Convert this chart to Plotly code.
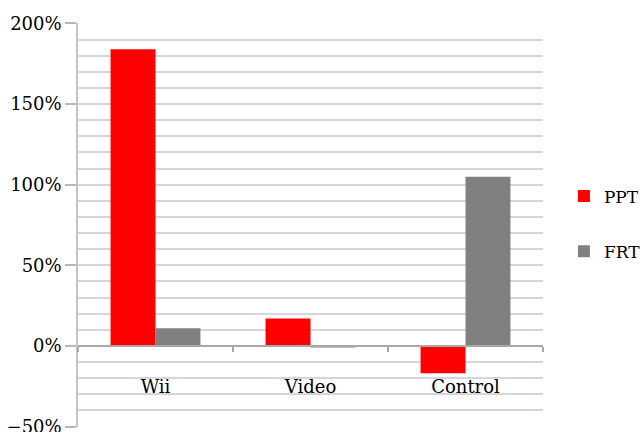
import plotly.graph_objects as go

categories = ["Wii", "Video", "Control"]
ppt_values = [184, 17, -17]
frt_values = [11, -1, 105]
series_names = ["PPT", "FRT"]
y_tick_values = [-50, 0, 50, 100, 150, 200]
y_tick_labels = ["\u221250%", "0%", "50%", "100%", "150%", "200%"]

grid_color = "#d6d4dc"
serif = "DejaVu Serif"

fig = go.Figure()
fig.add_trace(go.Bar(x=categories, y=ppt_values, name=series_names[0],
                     marker=dict(color="#ff0000", line=dict(width=0)),
                     legendgroup="a"))
fig.add_trace(go.Bar(x=categories, y=frt_values, name=series_names[1],
                     marker=dict(color="#808080", line=dict(width=0)),
                     legendgroup="b"))

fig.update_layout(
    width=644, height=432,
    margin=dict(l=78, r=101, t=23, b=5, autoexpand=False),
    plot_bgcolor="white", paper_bgcolor="white",
    font=dict(family=serif, size=18, color="black"),
    barmode="group", bargap=0.42, bargroupgap=0,
    showlegend=True,
    legend=dict(x=1.045, xanchor="left", y=0.615, yanchor="top",
                tracegroupgap=30, font=dict(size=17, family=serif),
                bgcolor="rgba(0,0,0,0)"),
    yaxis=dict(range=[-50.3, 200.3], tickvals=y_tick_values, ticktext=y_tick_labels,
               tickfont=dict(family=serif, size=18), ticklabeloverflow="allow",
               showgrid=True, gridcolor=grid_color, gridwidth=1.5,
               minor=dict(dtick=10, showgrid=True, gridcolor=grid_color, gridwidth=1.5),
               showline=True, linecolor="#c4c2ca", linewidth=1.5,
               ticks="outside", ticklen=11, tickcolor="#b8b6be", tickwidth=1.5,
               zeroline=False, fixedrange=True),
    xaxis=dict(anchor="free", position=0.2, showline=True, linecolor="#a8a8a8",
               tickfont=dict(family=serif, size=18),
               linewidth=2, ticks="outside", tickson="boundaries", ticklen=5,
               tickcolor="#a8a8a8", tickwidth=1.5, showgrid=False,
               ticklabelstandoff=24, fixedrange=True),
)

fig.write_html("out.html")
